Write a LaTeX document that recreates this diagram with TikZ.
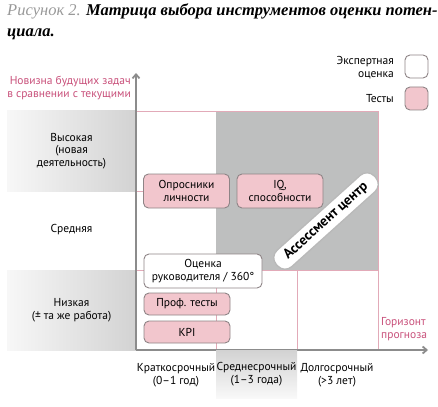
\documentclass[tikz,border=0pt]{standalone}
\usepackage{fontspec}
\setmainfont{PT Sans}
\newfontfamily\titlefont{Liberation Serif}
\usetikzlibrary{arrows.meta, positioning}

\definecolor{rosetext}{HTML}{C8507A}
\definecolor{rosefill}{HTML}{F2C6CD}
\definecolor{roseline}{HTML}{E2AAB8}
\definecolor{boxline}{HTML}{8E8486}
\definecolor{zonegray}{HTML}{BEBFBF}
\definecolor{axisgray}{HTML}{8C8C8C}

\begin{document}
\begin{tikzpicture}[
  x=1pt, y=-1pt,
  every node/.style={font=\fontsize{11.5}{12.8}\selectfont, inner sep=0pt},
  testbox/.style={draw=boxline, fill=rosefill, rounded corners=5pt, line width=0.9pt,
                  align=center, minimum width=86pt},
  expertbox/.style={draw=boxline, fill=white, rounded corners=5pt, line width=0.9pt,
                    align=center},
  legendbox/.style={draw=boxline, rounded corners=5pt, line width=0.9pt,
                    minimum width=23pt, minimum height=23pt},
  rowband/.style={left color=gray!6, right color=gray!35, minimum width=129pt,
                  minimum height=80pt, align=center},
  gridline/.style={draw=roseline, line width=0.5pt},
  axis/.style={draw=axisgray, line width=1.8pt, -{Straight Barb[length=4pt, width=7pt]}},
  acbox/.style={draw=gray!55, fill=white, line width=1.3pt, rounded corners=10pt,
                minimum width=132pt, minimum height=22pt, font=\fontsize{14}{15}\selectfont\bfseries},
]
\useasboundingbox (0,0) rectangle (438,406);

% ---- Title ----
\node[anchor=north west, align=left, font=\titlefont\fontsize{16.5}{21}\selectfont] (title) at (7,3)
  {{\color{gray!80}\itshape Рисунок 2.} {\bfseries\itshape Матрица выбора инструментов оценки потен-}\\
   {\bfseries\itshape циала.}};

% ---- Legend ----
\node[legendbox, fill=white] (legexpert) at (416.5,66.5) {};
\node[legendbox, fill=rosefill] (legtest) at (416.5,98.5) {};
\node[anchor=east, align=right] (legexperttext) at (394,68) {Экспертная\\оценка};
\node[anchor=east] (legtesttext) at (394,99) {Тесты};

% ---- Background zones ----
\fill[zonegray] (216,111) rectangle (378,270);
\node[rowband] (high) at (71.5,151) {Высокая\\(новая\\деятельность)};
\node[rowband] (low) at (71.5,310) {Низкая\\(± та же работа)};
\node[align=center] (middle) at (71.5,230) {Средняя};

% ---- Grid ----
\draw[gridline] (136,111) -- (378,111) -- (378,350);
\draw[gridline] (136,191) -- (216,191);
\draw[gridline] (136,270) -- (378,270);
\draw[gridline] (216,270) -- (216,350);
\draw[gridline] (297,270) -- (297,350);

% ---- Axes ----
\coordinate (origin) at (136,350);
\coordinate (ytop) at (136,73);
\coordinate (xend) at (428,350);
\draw[axis] (origin) -- (ytop);
\draw[axis] (origin) -- (xend);

\node[anchor=east, align=right, text=rosetext] (ylabel) at (131,88) {Новизна будущих задач\\в сравнении с текущими};
\node[anchor=west, align=left, text=rosetext] (xlabel) at (381,329) {Горизонт\\прогноза};

% ---- Horizon columns ----
\node[align=center] (short) at (176,375) {Краткосрочный\\(0–1 год)};
\node[top color=gray!35, bottom color=gray!5, minimum width=81pt, minimum height=48pt,
      align=center] (medium) at (256.5,374) {Среднесрочный\\(1–3 года)};
\node[align=center] (long) at (337,375) {Долгосрочный\\(>3 лет)};

% ---- Tools ----
\node[testbox, minimum height=34pt] (opros) at (186.5,191) {Опросники\\личности};
\node[testbox, minimum height=34pt] (iq) at (280,191) {IQ,\\способности};
\node[expertbox, minimum width=118pt, minimum height=34pt] (boss) at (203,271) {Оценка\\руководителя / 360°};
\node[testbox, minimum height=22pt] (prof) at (187,304) {Проф. тесты};
\node[testbox, minimum height=22pt] (kpi) at (187,332) {KPI};

\node[acbox, rotate=42] (ac) at (326,221) {Ассессмент центр};

\end{tikzpicture}
\end{document}
